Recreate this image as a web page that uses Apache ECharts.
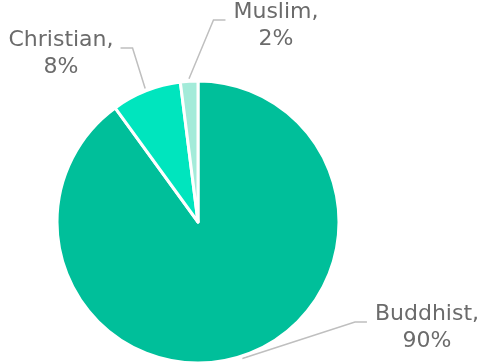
<!DOCTYPE html>
<html>
<head>
<meta charset="utf-8">
<script src="https://cdn.jsdelivr.net/npm/echarts@6/dist/echarts.min.js"></script>
<style>
  html, body { margin: 0; padding: 0; background: #ffffff; }
  #chart { width: 485px; height: 363px; }
</style>
</head>
<body>
<div id="chart"></div>
<script>
// Religion shares, in percent
const categories = ['Buddhist', 'Christian', 'Muslim'];
const shares = [90, 8, 2];
const sliceColors = ['#00BF9A', '#00E5BE', '#A3EBD9'];

// Pie geometry
const pieCenter = [198, 222];
const pieRadius = 141;
const pieStart = 90; // degrees, slices run clockwise from 12 o'clock

// Where each label block sits (centre of the text) and on which side its guide line joins
const labelSpots = {
  Buddhist:  { x: 427, y: 328, side: 'left' },
  Christian: { x: 61,  y: 54,  side: 'right' },
  Muslim:    { x: 276, y: 26,  side: 'left' }
};

// Point just outside the rim at the middle of a slice, from the data
function rimPoint(index) {
  const total = shares.reduce((a, b) => a + b, 0);
  let before = 0;
  for (let i = 0; i < index; i++) before += shares[i];
  const mid = (before + shares[index] / 2) / total * 360;
  const a = (pieStart - mid) * Math.PI / 180;
  const r = pieRadius + 2.5; // clear of the white slice border
  return [pieCenter[0] + r * Math.cos(a), pieCenter[1] - r * Math.sin(a)];
}

const chart = echarts.init(document.getElementById('chart'), null, { renderer: 'canvas' });

const pieData = categories.map((name, i) => ({
  name: name,
  value: shares[i],
  itemStyle: { color: sliceColors[i] }
}));

chart.setOption({
  animation: false,
  series: [{
    type: 'pie',
    center: pieCenter,
    radius: pieRadius,
    startAngle: pieStart,
    clockwise: true,
    data: pieData,
    itemStyle: { borderColor: '#ffffff', borderWidth: 3 },
    label: {
      show: true,
      position: 'outside',
      formatter: '{b},\n{d}%',
      fontFamily: 'DejaVu Sans',
      fontSize: 22,
      lineHeight: 27,
      color: '#6b6b6b',
      align: 'center',
      overflow: 'none'
    },
    labelLine: {
      show: true,
      length: 20,
      length2: 12,
      minTurnAngle: 0,
      maxSurfaceAngle: 180,
      lineStyle: { color: '#bfbfbf', width: 1.5 }
    },
    labelLayout: function (params) {
      const spot = labelSpots[categories[params.dataIndex]];
      const w = params.labelRect.width;
      const lineY = spot.y - 6;
      const start = rimPoint(params.dataIndex);
      let endX, bendX;
      if (spot.side === 'left') {
        endX = spot.x - w / 2 - 8;
        bendX = endX - 12;
      } else {
        endX = spot.x + w / 2 + 7;
        bendX = endX + 12;
      }
      return {
        x: spot.x,
        y: spot.y,
        align: 'center',
        verticalAlign: 'middle',
        labelLinePoints: [start, [bendX, lineY], [endX, lineY]]
      };
    }
  }]
});
</script>
</body>
</html>
